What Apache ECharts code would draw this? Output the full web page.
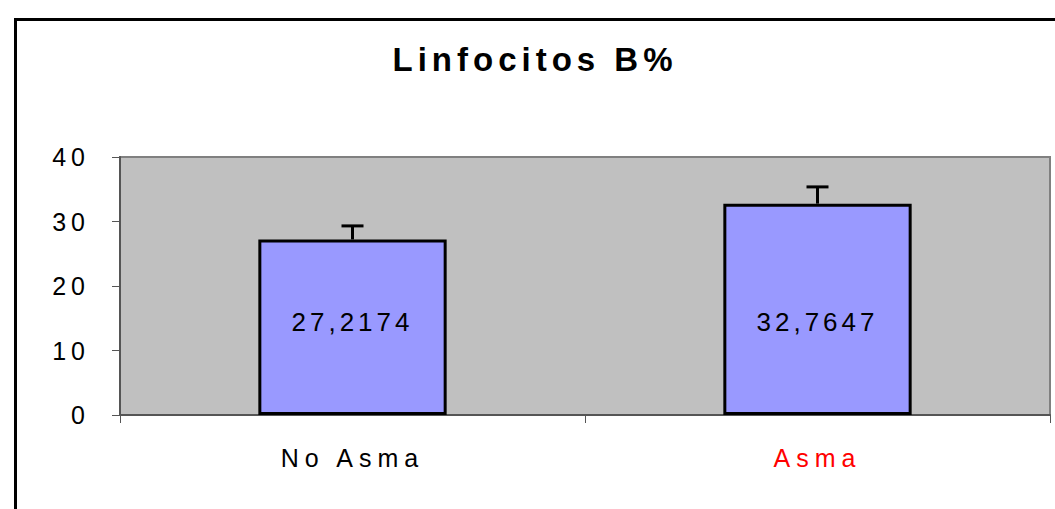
<!DOCTYPE html>
<html>
<head>
<meta charset="utf-8">
<style>
  html, body { margin: 0; padding: 0; background: #fff; }
  #main { width: 1055px; height: 509px; }
</style>
<script src="https://cdn.jsdelivr.net/npm/echarts@6/dist/echarts.min.js"></script>
</head>
<body>
<div id="main"></div>
<script>
// datos del grafico
var categorias = ['No Asma', 'Asma'];
var medias = [27.2174, 32.7647];
var errores = [2.1, 2.6];
var colorEtiquetas = ['#000000', '#FF0000'];

var myChart = echarts.init(document.getElementById('main'), null, {renderer: 'svg'});

var option = {
    backgroundColor: '#ffffff',
    animation: false,
    title: {
        text: 'Linfocitos B%',
        left: 530,
        top: 38,
        textAlign: 'center',
        textStyle: {fontFamily: 'Liberation Sans', fontSize: 33, fontWeight: 'bold', color: '#000'}
    },
    graphic: [{
        type: 'rect',
        left: 13, top: 17,
        shape: {width: 1100, height: 560},
        style: {fill: 'none', stroke: '#000', lineWidth: 3},
        silent: true
    }],
    grid: {
        left: 120, right: 5, top: 157, bottom: 94,
        show: true,
        backgroundColor: '#C0C0C0',
        borderColor: '#808080',
        borderWidth: 2
    },
    xAxis: {
        type: 'category',
        data: categorias,
        axisLine: {lineStyle: {color: '#555', width: 2}},
        axisTick: {show: true, length: 8, lineStyle: {color: '#555'}},
        axisLabel: {
            margin: 30,
            fontFamily: 'Liberation Sans',
            fontSize: 25,
            color: function (value, index) { return colorEtiquetas[index]; }
        }
    },
    yAxis: {
        type: 'value',
        min: 0, max: 40, interval: 10,
        splitLine: {show: false},
        axisLine: {show: true, lineStyle: {color: '#555', width: 2}},
        axisTick: {show: true, length: 8, lineStyle: {color: '#555'}},
        axisLabel: {margin: 30, fontFamily: 'Liberation Sans', fontSize: 25, color: '#000'}
    },
    series: [{
        type: 'bar',
        data: medias,
        barWidth: '40.5%',
        itemStyle: {color: '#9999FF', borderColor: '#000', borderWidth: 3},
        label: {
            show: true,
            position: 'insideBottom',
            distance: 80,
            fontFamily: 'Liberation Sans',
            fontSize: 26,
            color: '#000',
            formatter: function (p) { return String(p.value).replace('.', ','); }
        }
    }, {
        type: 'custom',
        data: medias.map(function (m, i) { return [i, m, errores[i]]; }),
        z: 3,
        renderItem: function (params, api) {
            var base = api.coord([api.value(0), api.value(1)]);
            var top = api.coord([api.value(0), api.value(1) + api.value(2)]);
            var half = 11;
            return {
                type: 'group',
                children: [{
                    type: 'line',
                    shape: {x1: base[0], y1: base[1], x2: top[0], y2: top[1]},
                    style: {stroke: '#000', lineWidth: 3}
                }, {
                    type: 'line',
                    shape: {x1: top[0] - half, y1: top[1], x2: top[0] + half, y2: top[1]},
                    style: {stroke: '#000', lineWidth: 3}
                }]
            };
        }
    }]
};

myChart.setOption(option);

// espaciado de letras como en el original
var espacios = {'Linfocitos B%': 5, 'No Asma': 6, 'Asma': 6};
document.querySelectorAll('#main text').forEach(function (t) {
    var s = espacios[t.textContent];
    if (s === undefined) s = /,/.test(t.textContent) ? 4 : 5;
    t.style.letterSpacing = s + 'px';
});
</script>
</body>
</html>
